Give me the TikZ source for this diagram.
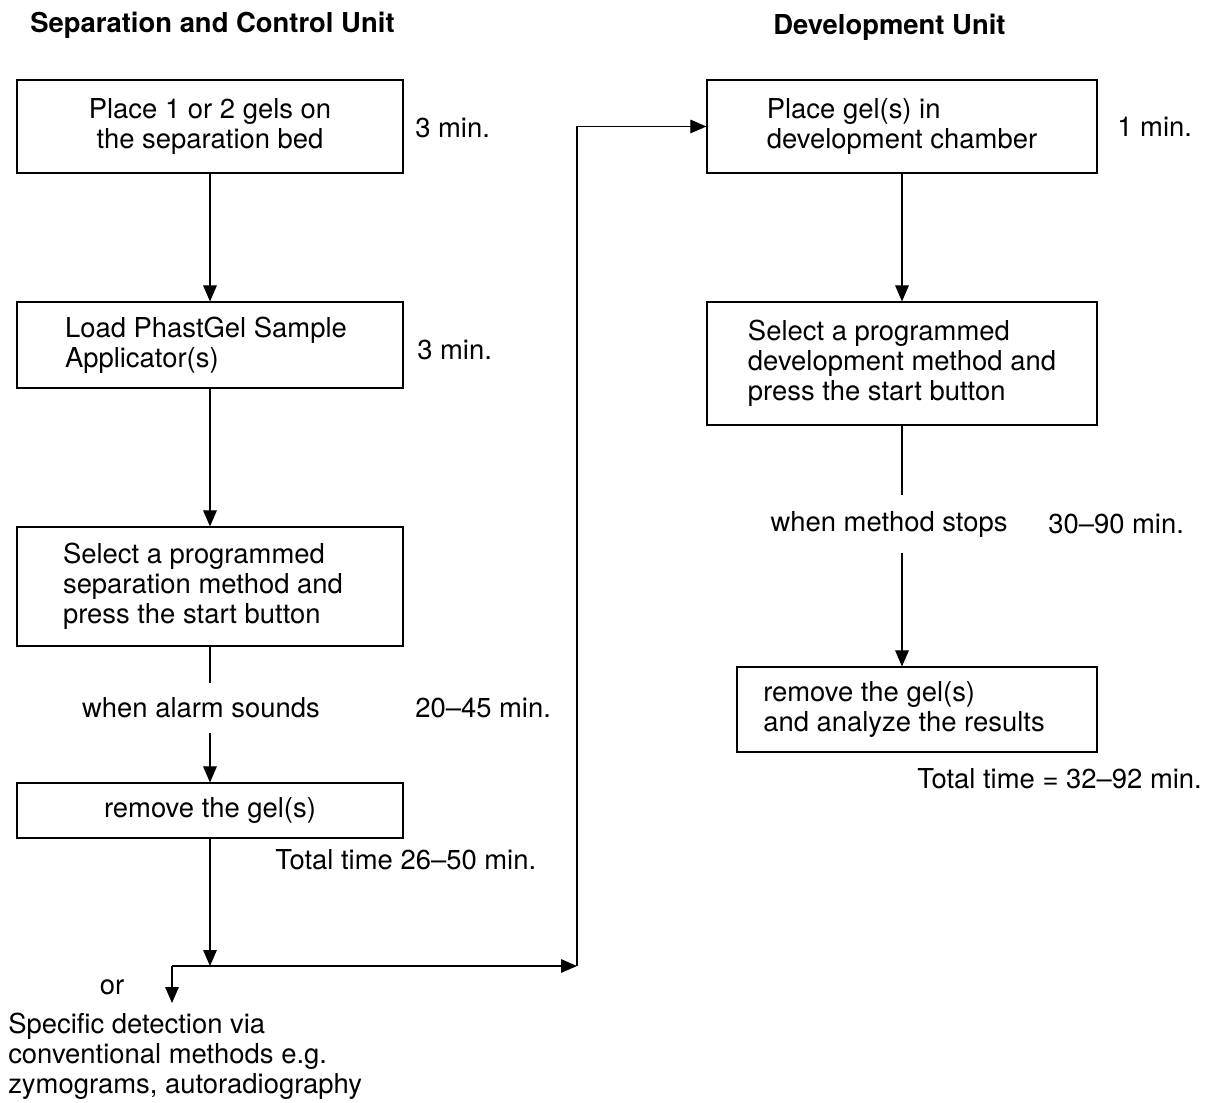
\documentclass[tikz,border=0pt]{standalone}
\usepackage{fontspec}
\setmainfont{TeX Gyre Heros}
\usetikzlibrary{arrows.meta}
\begin{document}
\begin{tikzpicture}[x=0.025cm,y=-0.025cm,
  every node/.style={font=\fontsize{19.5}{21.3}\selectfont},
  box/.style={draw, line width=0.8pt, inner sep=0pt},
  lbl/.style={inner sep=0pt, anchor=west},
  arr/.style={line width=0.8pt, -{Triangle[length=0.4cm,width=0.34cm]}},
  ln/.style={line width=0.8pt}]
\useasboundingbox (0,0) rectangle (1213,1103);

% headers
\node[lbl, font=\fontsize{19.5}{21.3}\selectfont\bfseries] (h1) at (30,25) {Separation and Control Unit};
\node[lbl, font=\fontsize{19.5}{21.3}\selectfont\bfseries] (h2) at (773,27) {Development Unit};

% left column boxes
\node[box, minimum width=9.65cm, minimum height=2.325cm, align=center] (b1) at (210,126.5) {Place 1 or 2 gels on\\the separation bed};
\node[box, minimum width=9.65cm, minimum height=2.15cm, align=left] (b2) at (210,345) {Load PhastGel Sample\rule{0.2cm}{0pt}\\Applicator(s)};
\node[box, minimum width=9.65cm, minimum height=2.975cm, align=left] (b3) at (210,586.5) {Select a programmed\\separation method and\rule{0.35cm}{0pt}\\press the start button};
\node[box, minimum width=9.65cm, minimum height=1.375cm, align=center] (b4) at (210,810.5) {remove the gel(s)};

% right column boxes
\node[box, minimum width=9.75cm, minimum height=2.325cm, align=left] (b5) at (902,126.5) {Place gel(s) in\\development chamber};
\node[box, minimum width=9.75cm, minimum height=3.075cm, align=left] (b6) at (902,363.5) {Select a programmed\\development method and\\press the start button};
\node[box, minimum width=9.0cm, minimum height=2.125cm, align=left] (b7) at (917,709.5) {remove the gel(s)\\and analyze the results\rule{0.65cm}{0pt}};

% time labels
\node[lbl] (t1) at (415,128) {3 min.};
\node[lbl] (t2) at (417,350) {3 min.};
\node[lbl] (t3) at (415,708) {20--45 min.};
\node[lbl] (t4) at (275,860) {Total time 26--50 min.};
\node[lbl] (t5) at (1117,127) {1 min.};
\node[lbl] (t6) at (1048,524) {30--90 min.};
\node[lbl] (t7) at (917,779) {Total time = 32--92 min.};

% condition labels
\node[inner ysep=10pt] (alarm) at (201,708) {when alarm sounds};
\node[inner ysep=11pt] (stops) at (889,524) {when method stops};
\node[inner sep=0pt] (or) at (112,987) {or};
\node[inner sep=0pt, anchor=north west, align=left] (det) at (8,1013) {Specific detection via\\conventional methods e.g.\\zymograms, autoradiography};

% coordinates
\coordinate (j1) at (210,966);
\coordinate (c1) at (172,966);
\coordinate (c2) at (577,966);
\coordinate (c3) at (172,1003);

% connectors left
\draw[arr] (b1.south) -- (b2.north);
\draw[arr] (b2.south) -- (b3.north);
\draw[ln] (b3.south) -- (b3.south |- alarm.north);
\draw[arr] (b3.south |- alarm.south) -- (b4.north);
\draw[arr] (b4.south) -- (j1);
\draw[arr] (c1) -- (c2);
\draw[arr] (c1) -- (c3);
\draw[arr] (c2) |- (b5.west);

% connectors right
\draw[arr] (b5.south) -- (b6.north);
\draw[ln] (b6.south) -- (b6.south |- stops.north);
\draw[arr] (b6.south |- stops.south) -- (b6.south |- b7.north);
\end{tikzpicture}
\end{document}
